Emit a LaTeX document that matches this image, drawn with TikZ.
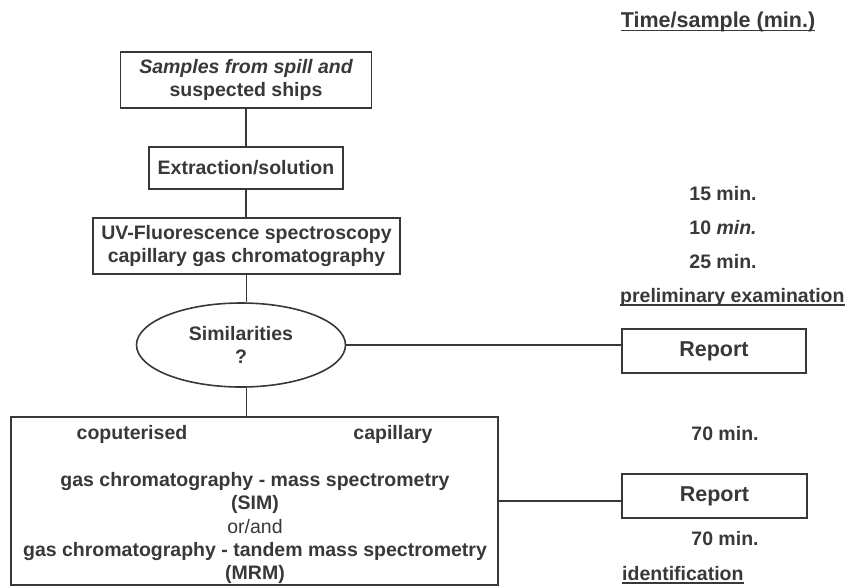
\documentclass[tikz,border=0pt]{standalone}
\usepackage{fontspec}
\setmainfont{Liberation Sans}
\usetikzlibrary{shapes.geometric}
\colorlet{ink}{black!78}
% thick underline for the column headings
\newcommand{\undl}[1]{\setbox0\hbox{#1}\rlap{\usebox0}\rule[-3.5pt]{\wd0}{1.5pt}}

\begin{document}
\begin{tikzpicture}[x=1pt,y=-1pt,
  every node/.style={text=ink,font=\fontsize{19.5}{23.4}\selectfont\bfseries},
  box/.style={draw=ink,line width=1.6pt,inner sep=0pt,align=center},
  wire/.style={draw=ink,line width=1.6pt},
  big/.style={font=\fontsize{21.5}{25}\selectfont\bfseries}]
\useasboundingbox (0,0) rectangle (851,587);
% flow chart
\node[box,minimum width=251pt,minimum height=56pt] (samples) at (246,80)
  {{\itshape Samples from spill and}\\suspected ships};
\node[box,minimum width=194pt,minimum height=42pt] (extract) at (246,168)
  {Extraction/solution};
\node[box,minimum width=307pt,minimum height=56pt] (uv) at (246.5,246)
  {UV-Fluorescence spectroscopy\\capillary gas chromatography};
\node[box,ellipse,minimum width=209pt,minimum height=84pt] (sim) at (241,345)
  {Similarities\\?};
\node[box,minimum width=487pt,minimum height=168pt] (ms) at (254.5,501) {};
\node (comp) at (132,434) {coputerised};
\node (capil) at (393,434) {capillary};
\node[align=center] (gcms) at (255,528)
  {gas chromatography - mass spectrometry\\(SIM)\\{\mdseries or/and}\\
   gas chromatography - tandem mass spectrometry\\(MRM)};
\node[box,big,minimum width=184pt,minimum height=44pt] (rep1) at (714,351) {Report};
\node[box,big,minimum width=185pt,minimum height=44pt] (rep2) at (714.5,496) {Report};
% connectors
\draw[wire] (samples.south) -- (samples.south |- extract.north);
\draw[wire] (extract.south) -- (extract.south |- uv.north);
\draw[wire] (uv.south) -- (uv.south |- sim.north);
\draw[wire] (uv.south |- sim.south) -- (uv.south |- ms.north);
\draw[wire] (sim.east) -- (sim.east -| rep1.west);
\draw[wire] (ms.east) -- (ms.east -| rep2.west);
% time column
\node[big] (head) at (718,22) {\undl{Time/sample (min.)}};
\node (t15) at (723,194) {15 min.};
\node (t10) at (723,228) {10 {\itshape min.}};
\node (t25) at (723,262) {25 min.};
\node[anchor=west,inner sep=0pt] (prelim) at (620,297) {\undl{preliminary examination}};
\node (t70a) at (725,434) {70 min.};
\node (t70b) at (725,539) {70 min.};
\node[anchor=west,inner sep=0pt] (ident) at (622,575) {\undl{identification}};
\end{tikzpicture}
\end{document}
